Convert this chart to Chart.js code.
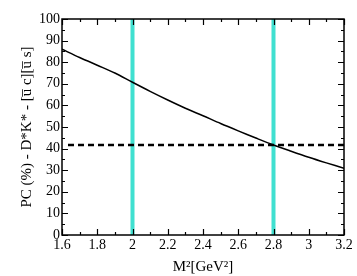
<!DOCTYPE html>
<html lang="en">
<head>
<meta charset="UTF-8">
<title>PC chart</title>
<script src="https://cdn.jsdelivr.net/npm/chart.js@4/dist/chart.umd.min.js"></script>
<style>
  html, body { margin: 0; padding: 0; background: #fff; }
</style>
</head>
<body>
<canvas id="pcChart" width="357" height="276"></canvas>
<script>
// values
const m2Values = [1.6, 1.7, 1.8, 1.9, 2.0, 2.1, 2.2, 2.3, 2.4, 2.5, 2.6, 2.7, 2.8, 2.9, 3.0, 3.1, 3.2];
const pcValues = [86.0, 82.2, 78.6, 75.0, 70.7, 66.5, 62.5, 58.7, 55.2, 51.6, 48.2, 44.9, 41.7, 38.8, 36.0, 33.4, 30.9];
const windowEdges = [2.0, 2.8];      // cyan vertical lines
const dashedLevel = 41.7;
const dashedRange = [1.634, 3.2];
const xTickValues = [1.6, 1.8, 2.0, 2.2, 2.4, 2.6, 2.8, 3.0, 3.2];
const yTickValues = [0, 10, 20, 30, 40, 50, 60, 70, 80, 90, 100];

const serif = "'Liberation Serif', 'DejaVu Serif', serif";

// inward ticks on all four sides + frame
const frameTicks = {
  id: 'frameTicks',
  afterDraw(chart) {
    const { ctx, chartArea: a, scales: { x, y } } = chart;
    ctx.save();
    ctx.strokeStyle = '#000';
    ctx.lineWidth = 1.5;
    ctx.strokeRect(a.left, a.top, a.right - a.left, a.bottom - a.top);
    ctx.lineWidth = 1.2;
    for (let v = 1.6; v <= 3.2001; v += 0.1) {
      const px = Math.round(x.getPixelForValue(v)) + 0.5;
      const major = Math.abs(Math.round(v * 10) % 2) === 0;
      const len = major ? 6 : 3;
      ctx.beginPath();
      ctx.moveTo(px, a.bottom); ctx.lineTo(px, a.bottom - len);
      ctx.moveTo(px, a.top); ctx.lineTo(px, a.top + len);
      ctx.stroke();
    }
    for (let v = 0; v <= 100; v += 5) {
      const py = Math.round(y.getPixelForValue(v)) + 0.5;
      const len = v % 10 === 0 ? 6 : 3;
      ctx.beginPath();
      ctx.moveTo(a.left, py); ctx.lineTo(a.left + len, py);
      ctx.moveTo(a.right, py); ctx.lineTo(a.right - len, py);
      ctx.stroke();
    }
    ctx.restore();
  }
};

const curve = m2Values.map((m, i) => ({ x: m, y: pcValues[i] }));
const vertical = windowEdges.map(m => ({
  data: [{ x: m, y: 0 }, { x: m, y: 100 }],
  borderColor: '#40E0D0',
  backgroundColor: '#40E0D0',
  borderWidth: 4,
  pointRadius: 0,
  order: 3
}));

new Chart(document.getElementById('pcChart'), {
  type: 'line',
  data: {
    datasets: [
      ...vertical,
      {
        data: [{ x: dashedRange[0], y: dashedLevel }, { x: dashedRange[1], y: dashedLevel }],
        borderColor: '#000',
        borderWidth: 2.5,
        borderDash: [6, 4],
        pointRadius: 0,
        order: 2
      },
      {
        data: curve,
        borderColor: '#000',
        borderWidth: 1.5,
        pointRadius: 0,
        tension: 0.3,
        order: 1
      }
    ]
  },
  options: {
    responsive: false,
    animation: false,
    maintainAspectRatio: false,
    layout: { padding: { top: 19, right: 13, left: 0, bottom: 0 } },
    plugins: { legend: { display: false }, tooltip: { enabled: false } },
    scales: {
      x: {
        type: 'linear',
        min: 1.6,
        max: 3.2,
        afterBuildTicks: s => { s.ticks = xTickValues.map(v => ({ value: v })); },
        afterFit: s => { s.height = 41; },
        grid: { display: false, drawTicks: false },
        border: { display: false },
        ticks: {
          color: '#000',
          padding: 2,
          maxRotation: 0,
          autoSkip: false,
          font: { family: serif, size: 14 },
          callback: v => String(Math.round(v * 10) / 10)
        },
        title: {
          display: true,
          text: 'M\u00B2[GeV\u00B2]',
          color: '#000',
          padding: { top: 2, bottom: 0 },
          font: { family: serif, size: 15 }
        }
      },
      y: {
        min: 0,
        max: 100,
        afterBuildTicks: s => { s.ticks = yTickValues.map(v => ({ value: v })); },
        afterFit: s => { s.width = 62; },
        grid: { display: false, drawTicks: false },
        border: { display: false },
        ticks: {
          color: '#000',
          padding: 2,
          autoSkip: false,
          font: { family: serif, size: 14 }
        },
        title: {
          display: true,
          text: 'PC (%) - D*K* - [u\u0305 c][u\u0305 s]',
          color: '#000',
          padding: { top: 18, bottom: 0 },
          font: { family: serif, size: 15 }
        }
      }
    }
  },
  plugins: [frameTicks]
});
</script>
</body>
</html>
